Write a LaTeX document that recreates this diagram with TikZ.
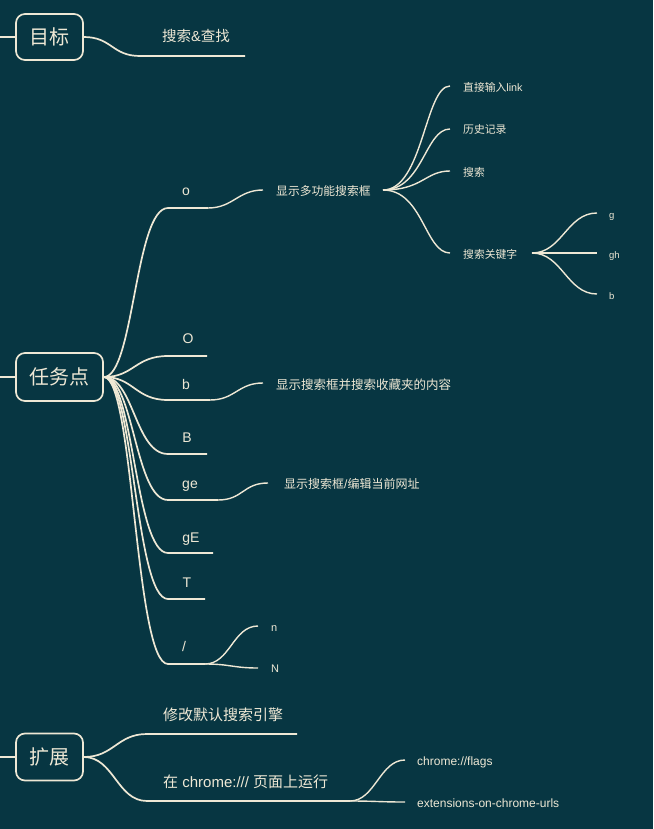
\documentclass[tikz,border=0pt]{standalone}
\usepackage{fontspec}
\setmainfont{Liberation Sans}
\newfontfamily\cjk{Noto Sans CJK SC}
\newcommand\myfs[1]{\fontsize{#1}{#1}\selectfont}
\definecolor{bg}{HTML}{073642}
\definecolor{ln}{HTML}{EEE8D5}
\definecolor{tx}{HTML}{EEE8D5}
\begin{document}
\begin{tikzpicture}[x=1pt,y=-1pt,
  conn/.style={draw=ln,line width=1.7pt},
  thin/.style={draw=ln,line width=1.4pt},
  rootbox/.style={draw=ln,line width=1.7pt,rounded corners=9pt,minimum width=67pt,minimum height=46pt,inner sep=0pt,text=tx,font=\cjk\myfs{20}},
  lbl/.style={text=tx,inner sep=0pt,text height=0.78em,text depth=0.08em,yshift=-1.5pt},
  lw/.style={lbl,anchor=west}
]
\fill[bg] (0,0) rectangle (653,829);
\useasboundingbox (0,0) rectangle (653,829);

% ---------- goal ----------
\node[rootbox] (goal) at (49.5,37) {目标};
\coordinate (goalin) at (0,37);
\draw[conn] (goalin) -- (goal.west);
\coordinate (g1a) at (140,56); \coordinate (g1b) at (245,56);
\node[lw,font=\myfs{14.5}] (g1) at (162,37) {{\cjk 搜索}\&{\cjk 查找}};
\draw[conn] (goal.east) .. controls +(28,0) and +(-28,0) .. (g1a) -- (g1b);

% ---------- task ----------
\node[rootbox,minimum width=87pt,minimum height=48pt] (task) at (59.5,377) {任务点};
\coordinate (taskin) at (0,377);
\draw[conn] (taskin) -- (task.west);

% o
\coordinate (oA) at (168,208); \coordinate (oB) at (208,208); \coordinate (oC) at (263,190);
\node[lbl,font=\myfs{14}] (o) at (186,190) {o};
\draw[conn] (task.east) .. controls +(30,0) and +(-33,0) .. (oA) -- (oB);
\draw[thin] (oB) .. controls +(25,0) and +(-25,0) .. (oC);
\node[lw,font=\cjk\myfs{11.8}] (o1) at (276,190) {显示多功能搜索框};
\coordinate (o1s) at (383,190);
\coordinate (k1) at (450,86); \coordinate (k2) at (450,129);
\coordinate (k3) at (450,171); \coordinate (k4) at (450,253);
\node[lw,font=\myfs{10.8}] (t1) at (463,87) {{\cjk 直接输入}link};
\node[lw,font=\cjk\myfs{10.8}] (t2) at (463,129) {历史记录};
\node[lw,font=\cjk\myfs{10.8}] (t3) at (463,172) {搜索};
\node[lw,font=\cjk\myfs{10.8}] (t4) at (463,253) {搜索关键字};
\draw[thin] (o1s) .. controls +(40,0) and +(-25,0) .. (k1);
\draw[thin] (o1s) .. controls +(40,0) and +(-25,0) .. (k2);
\draw[thin] (o1s) .. controls +(40,0) and +(-25,0) .. (k3);
\draw[thin] (o1s) .. controls +(40,0) and +(-25,0) .. (k4);
\coordinate (t4s) at (532,253);
\coordinate (m1) at (597,213); \coordinate (m2) at (597,253); \coordinate (m3) at (597,294);
\node[lw,font=\myfs{9.5}] (u1) at (609,213) {g};
\node[lw,font=\myfs{9.5}] (u2) at (609,253) {gh};
\node[lw,font=\myfs{9.5}] (u3) at (609,294) {b};
\draw[thin] (t4s) .. controls +(30,0) and +(-30,0) .. (m1);
\draw[thin] (t4s) -- (m2);
\draw[thin] (t4s) .. controls +(30,0) and +(-30,0) .. (m3);

% O
\coordinate (OA) at (168,356); \coordinate (OB) at (207,356);
\node[lbl,font=\myfs{14}] (O) at (188,338) {O};
\draw[conn] (task.east) .. controls +(30,0) and +(-33,0) .. (OA) -- (OB);

% b
\coordinate (bA) at (168,400); \coordinate (bB) at (210,400); \coordinate (bC) at (263,383);
\node[lbl,font=\myfs{14}] (b) at (186,384) {b};
\draw[conn] (task.east) .. controls +(30,0) and +(-33,0) .. (bA) -- (bB);
\draw[thin] (bB) .. controls +(25,0) and +(-25,0) .. (bC);
\node[lw,font=\cjk\myfs{12.5}] (b1) at (276,384) {显示搜索框并搜索收藏夹的内容};

% B
\coordinate (BA) at (168,454); \coordinate (BB) at (207,454);
\node[lbl,font=\myfs{14}] (B) at (187,437) {B};
\draw[conn] (task.east) .. controls +(30,0) and +(-33,0) .. (BA) -- (BB);

% ge
\coordinate (geA) at (168,500); \coordinate (geB) at (218,500); \coordinate (geC) at (268,483);
\node[lbl,font=\myfs{14}] (ge) at (190,483) {ge};
\draw[conn] (task.east) .. controls +(30,0) and +(-33,0) .. (geA) -- (geB);
\draw[thin] (geB) .. controls +(25,0) and +(-25,0) .. (geC);
\node[lw,font=\myfs{12}] (ge1) at (284,483) {{\cjk 显示搜索框}/{\cjk 编辑当前网址}};

% gE
\coordinate (gEA) at (168,553); \coordinate (gEB) at (213,553);
\node[lbl,font=\myfs{14}] (gE) at (191,537) {gE};
\draw[conn] (task.east) .. controls +(30,0) and +(-33,0) .. (gEA) -- (gEB);

% T
\coordinate (TA) at (168,599); \coordinate (TB) at (205,599);
\node[lbl,font=\myfs{14}] (T) at (187,582) {T};
\draw[conn] (task.east) .. controls +(30,0) and +(-33,0) .. (TA) -- (TB);

% /
\coordinate (sA) at (168,664); \coordinate (sB) at (205,664);
\node[lbl,font=\myfs{14}] (sl) at (184,646) {/};
\draw[conn] (task.east) .. controls +(30,0) and +(-33,0) .. (sA) -- (sB);
\coordinate (nA) at (258,626); \coordinate (NA) at (258,668);
\node[lw,font=\myfs{11}] (n) at (271,626) {n};
\node[lw,font=\myfs{11}] (N) at (271,667) {N};
\draw[thin] (sB) .. controls +(25,0) and +(-25,0) .. (nA);
\draw[thin] (sB) .. controls +(25,0) and +(-25,0) .. (NA);

% ---------- expand ----------
\node[rootbox,minimum height=47pt] (exp) at (49.5,757) {扩展};
\coordinate (expin) at (0,757);
\draw[conn] (expin) -- (exp.west);
\coordinate (e1A) at (147,734); \coordinate (e1B) at (297,734);
\coordinate (e2A) at (147,801); \coordinate (e2B) at (350,801);
\node[lw,font=\cjk\myfs{15}] (e1) at (163,715) {修改默认搜索引擎};
\node[lw,font=\myfs{15}] (e2) at (163,782) {{\cjk 在} chrome:/// {\cjk 页面上运行}};
\draw[conn] (exp.east) .. controls +(30,0) and +(-30,0) .. (e1A) -- (e1B);
\draw[conn] (exp.east) .. controls +(30,0) and +(-30,0) .. (e2A) -- (e2B);
\coordinate (f1) at (405,760); \coordinate (f2) at (405,802);
\node[lw,font=\myfs{12}] (x1) at (417,760) {chrome://flags};
\node[lw,font=\myfs{12}] (x2) at (417,802) {extensions-on-chrome-urls};
\draw[thin] (e2B) .. controls +(25,0) and +(-25,0) .. (f1);
\draw[thin] (e2B) .. controls +(25,0) and +(-25,0) .. (f2);
\end{tikzpicture}
\end{document}
